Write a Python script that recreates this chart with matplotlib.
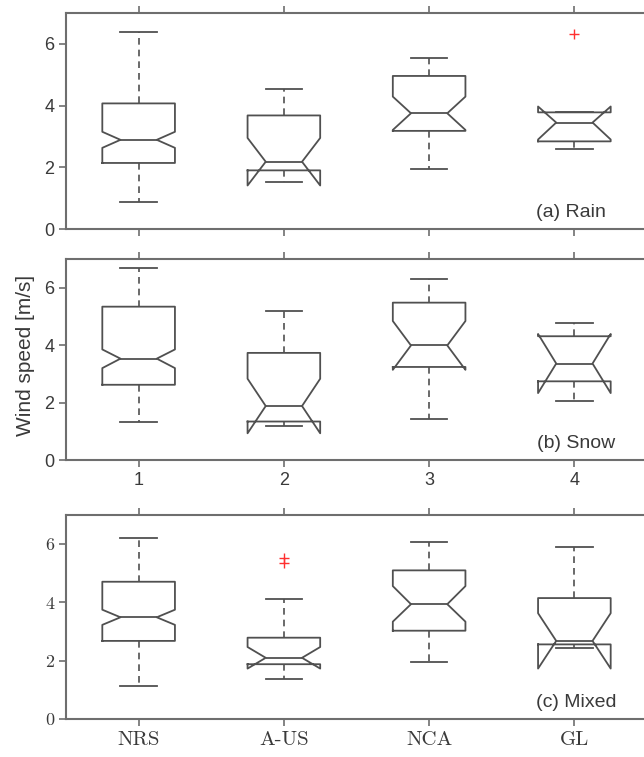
import matplotlib.pyplot as plt

stations = ['NRS', 'A-US', 'NCA', 'GL']
numbers = ['1', '2', '3', '4']
panel_labels = ['(a) Rain', '(b) Snow', '(c) Mixed']

# rows: rain, snow, mixed ; columns: NRS, A-US, NCA, GL
whislo = [[0.89, 1.53, 1.93, 2.60], [1.32, 1.17, 1.42, 2.04], [1.13, 1.38, 1.96, 2.45]]
q1 = [[2.14, 1.90, 3.18, 2.84], [2.62, 1.34, 3.24, 2.74], [2.68, 1.88, 3.03, 2.56]]
med = [[2.89, 2.18, 3.75, 3.45], [3.53, 1.88, 3.99, 3.36], [3.49, 2.10, 3.94, 2.68]]
q3 = [[4.07, 3.68, 4.96, 3.78], [5.34, 3.73, 5.48, 4.31], [4.71, 2.79, 5.10, 4.15]]
whishi = [[6.38, 4.55, 5.54, 3.80], [6.67, 5.19, 6.32, 4.78], [6.20, 4.12, 6.08, 5.90]]
cilo = [[2.63, 1.41, 3.21, 2.90], [3.20, 0.93, 3.14, 2.33], [3.23, 1.73, 3.34, 1.73]]
cihi = [[3.15, 2.95, 4.29, 3.97], [3.85, 2.83, 4.84, 4.39], [3.75, 2.47, 4.56, 3.63]]
fliers = [[[], [], [], [6.32]], [[], [], [], []], [[], [5.54, 5.34], [], []]]

fig = plt.figure(figsize=(6.44, 7.57), dpi=100)
W, H = 644, 757
# axes boxes in pixels: (top, bottom)
boxes_px = [(13, 229), (259, 460), (515, 719)]
label_pos = [(4.22, 0.55), (4.28, 0.58), (4.29, 0.58)]

line_c = '#505050'
spine_c = '#6e6e6e'
sans = 'Liberation Sans'

for i, (top, bot) in enumerate(boxes_px):
    ax = fig.add_axes([66 / W, 1 - bot / H, (647 - 66) / W, (bot - top) / H])
    stats = []
    for j in range(4):
        stats.append(dict(med=med[i][j], q1=q1[i][j], q3=q3[i][j],
                          whislo=whislo[i][j], whishi=whishi[i][j],
                          cilo=cilo[i][j], cihi=cihi[i][j],
                          fliers=fliers[i][j]))
    ax.bxp(stats, positions=[1, 2, 3, 4], widths=0.5, shownotches=True,
           boxprops=dict(color=line_c, lw=1.3),
           whiskerprops=dict(color=line_c, lw=1.2, ls=(0, (4, 3))),
           capprops=dict(color=line_c, lw=1.3),
           medianprops=dict(color=line_c, lw=1.3),
           flierprops=dict(marker='+', markeredgecolor='#ff3030', markersize=7,
                           markeredgewidth=1.0))
    ax.set_xlim(0.5, 4.5)
    ax.set_ylim(0, 7)
    ax.set_yticks([0, 2, 4, 6])
    ax.set_xticks([1, 2, 3, 4])
    for s in ax.spines.values():
        s.set_color(spine_c)
        s.set_linewidth(1.5)
    ax.tick_params(direction='out', top=True, length=5, width=1.2, color=spine_c,
                   labelcolor='#3a3a3a', labelsize=13)
    if i == 0:
        ax.set_xticklabels([])
    elif i == 1:
        ax.set_xticklabels(numbers, fontfamily=sans)
    else:
        ax.set_xticklabels(stations, fontfamily='cmr10', fontsize=15)
    if i == 2:
        for t in ax.get_yticklabels():
            t.set_fontfamily('cmr10')
    else:
        for t in ax.get_yticklabels():
            t.set_fontfamily(sans)
    ax.text(label_pos[i][0], label_pos[i][1], panel_labels[i], ha='right', va='center',
            fontsize=14, fontfamily=sans, color='#3a3a3a')

fig.text(26 / W, 1 - 355 / H, 'Wind speed [m/s]', rotation=90, ha='center', va='center',
         fontsize=15, fontfamily=sans, color='#3a3a3a')

fig.savefig('out.png', dpi=100)
